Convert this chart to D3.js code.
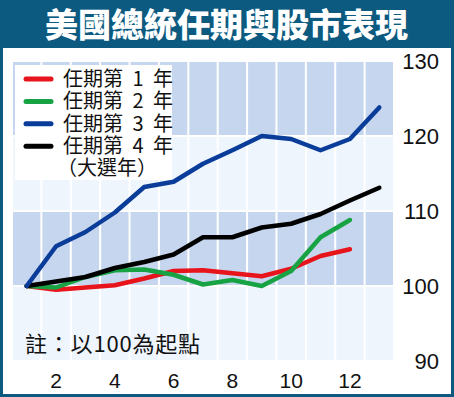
<!DOCTYPE html>
<html>
<head>
<meta charset="utf-8">
<script src="https://cdn.jsdelivr.net/npm/d3@7"></script>
<style>
  body{margin:0;padding:0;background:#fff;}
  svg{display:block;}
  .cjk{font-family:"Noto Sans CJK TC","Noto Sans CJK SC",sans-serif;}
  .num{font-family:"Liberation Sans",Arial,sans-serif;}
</style>
</head>
<body>
<div id="chart"></div>
<script>
// data
var months = [1,2,3,4,5,6,7,8,9,10,11,12,13];
var year1 = [100,99.5,99.8,100.1,101.0,102.0,102.1,101.7,101.3,102.3,104.0,104.9];
var year2 = [100,99.8,101.2,102.1,102.2,101.5,100.2,100.8,100.0,102.0,106.5,108.8];
var year3 = [100,105.3,107.2,109.8,113.2,113.9,116.3,118.1,120.0,119.6,118.1,119.6,123.8];
var year4 = [100,100.6,101.2,102.4,103.2,104.2,106.5,106.5,107.8,108.3,109.6,111.4,113.1];
var seriesNames = ["任期第 1 年","任期第 2 年","任期第 3 年","任期第 4 年"];
var seriesColors = ["#e8141c","#17a344","#0a3d9a","#000000"];
var yTicks = [90,100,110,120,130];
var xTicks = [2,4,6,8,10,12];
var title = "美國總統任期與股市表現";
var note = "註：以100為起點";

var W = 454, H = 397;
var svg = d3.select("#chart").append("svg").attr("width",W).attr("height",H);

// frame
svg.append("rect").attr("x",0).attr("y",0).attr("width",W).attr("height",H).attr("fill","#0c5a80");
svg.append("rect").attr("x",3).attr("y",48).attr("width",W-6).attr("height",H-51).attr("fill","#ffffff");
svg.append("text").attr("class","cjk").attr("x",45).attr("y",37)
  .attr("fill","#fff").attr("font-size",33).attr("font-weight",900)
  .attr("textLength",363).attr("lengthAdjust","spacing")
  .text(title);

var x = d3.scaleLinear().domain([0.5,13.5]).range([12,394]);
var y = d3.scaleLinear().domain([90,130]).range([361,61]);

// background cells
var bands = [];
for(var i=0;i<yTicks.length-1;i++){
  for(var m=0;m<months.length;m++){
    bands.push({lo:yTicks[i],hi:yTicks[i+1],m:months[m],dark:(i%2===1)});
  }
}
svg.append("g").selectAll("rect").data(bands).enter().append("rect")
  .attr("x",function(d){return x(d.m-0.5)+1;})
  .attr("y",function(d){return y(d.hi)+1;})
  .attr("width",function(d){return x(d.m+0.5)-x(d.m-0.5)-2;})
  .attr("height",function(d){return y(d.lo)-y(d.hi)-2;})
  .attr("fill",function(d){return d.dark?"#c6d6ee":"#eef5fd";});

// y labels on right
svg.append("g").selectAll("text").data(yTicks).enter().append("text")
  .attr("class","num").attr("x",439).attr("y",function(d){return y(d)+8;})
  .attr("text-anchor","end").attr("font-size",22).attr("fill","#111")
  .text(String);

// x labels
svg.append("g").selectAll("text").data(xTicks).enter().append("text")
  .attr("class","num").attr("x",function(d){return x(d);}).attr("y",388)
  .attr("text-anchor","middle").attr("font-size",21).attr("fill","#111")
  .text(String);

// legend box
svg.append("rect").attr("x",15).attr("y",65).attr("width",157).attr("height",115).attr("fill","#fff");
var leg = svg.append("g").selectAll("g").data(seriesNames).enter().append("g")
  .attr("transform",function(d,i){return "translate(0,"+(79+i*22.4)+")";});
leg.append("line").attr("x1",26).attr("x2",51).attr("y1",0).attr("y2",0)
  .attr("stroke",function(d,i){return seriesColors[i];}).attr("stroke-width",5).attr("stroke-linecap","round");
leg.append("text").attr("class","cjk").attr("x",63).attr("y",7).attr("font-size",20).attr("fill","#111")
  .style("word-spacing","5px")
  .text(String);
svg.append("text").attr("class","cjk").attr("x",57).attr("y",175).attr("font-size",20).attr("fill","#111")
  .text("（大選年）");

// note
svg.append("text").attr("class","cjk").attr("x",25).attr("y",352).attr("font-size",22).attr("fill","#111")
  .attr("textLength",175).attr("lengthAdjust","spacing")
  .text(note);

// lines
var line = d3.line().x(function(d,i){return x(months[i]);}).y(function(d){return y(d);});
var allSeries = [year1,year2,year4,year3];
var order = [0,1,3,2];
svg.append("g").selectAll("path").data(allSeries).enter().append("path")
  .attr("d",line).attr("fill","none")
  .attr("stroke",function(d,i){return seriesColors[order[i]];})
  .attr("stroke-width",4.5).attr("stroke-linejoin","round").attr("stroke-linecap","round");
</script>
</body>
</html>
